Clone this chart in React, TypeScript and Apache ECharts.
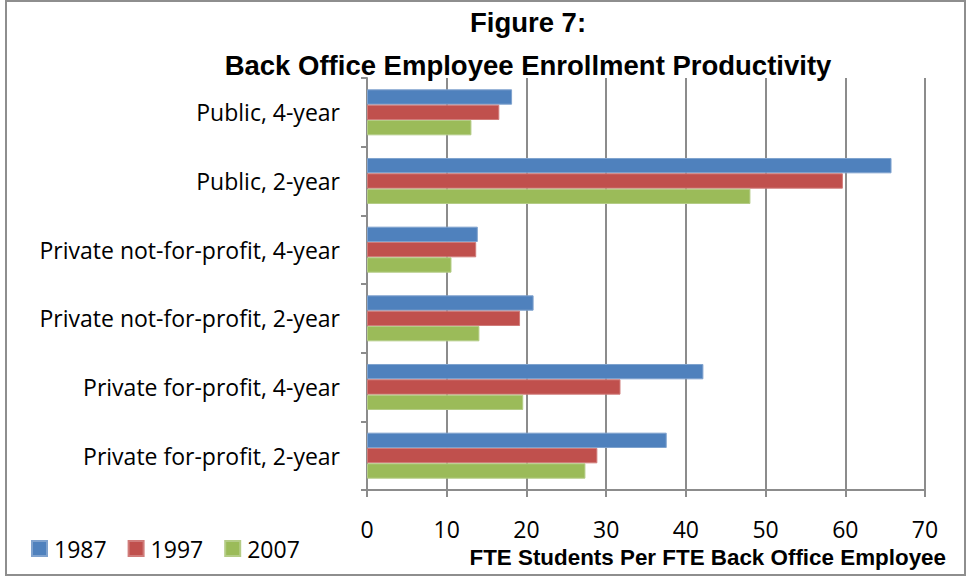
import React, { useEffect, useRef } from "react";
import * as echarts from "echarts";

const categories = [
  "Public, 4-year",
  "Public, 2-year",
  "Private not-for-profit, 4-year",
  "Private not-for-profit, 2-year",
  "Private for-profit, 4-year",
  "Private for-profit, 2-year",
];
const seriesNames = ["1987", "1997", "2007"];
const values1987 = [18.2, 65.8, 13.9, 20.9, 42.2, 37.6];
const values1997 = [16.6, 59.7, 13.7, 19.2, 31.8, 28.9];
const values2007 = [13.1, 48.1, 10.6, 14.1, 19.6, 27.4];
const colors = ["#4F81BD", "#C0504D", "#9BBB59"];
const borderColors = ["#7FA2CE", "#D07C7A", "#B4CC86"];
const xTicks = { min: 0, max: 70, interval: 10 };
const titleLines = ["Figure 7:", "Back Office Employee Enrollment Productivity"];
const xAxisName = "FTE Students Per FTE Back Office Employee";

const FONT = "'Open Sans', 'Liberation Sans', Arial, sans-serif";
const BOLD_FONT = "'Liberation Sans', Arial, sans-serif";

export default function App() {
  const ref = useRef<HTMLDivElement>(null);
  useEffect(() => {
    if (!ref.current) return;
    const chart = echarts.init(ref.current, undefined, { renderer: "svg" });
    const data = [values1987, values1997, values2007];
    chart.setOption({
      animation: false,
      backgroundColor: "#ffffff",
      textStyle: { fontFamily: FONT, color: "#000" },
      grid: { left: 367, right: 42, top: 78, bottom: 89, containLabel: false },
      legend: {
        left: 26,
        top: 532,
        itemWidth: 15,
        itemHeight: 15,
        itemGap: 21,
        icon: "rect",
        data: seriesNames,
        textStyle: { fontSize: 23, fontFamily: FONT, color: "#000", padding: [0, 0, 0, 2] },
      },
      xAxis: {
        type: "value",
        min: xTicks.min,
        max: xTicks.max,
        interval: xTicks.interval,
        axisLine: { show: true, lineStyle: { color: "#8c8c8c", width: 2 } },
        axisTick: { show: true, length: 7, lineStyle: { color: "#8c8c8c", width: 2 } },
        splitLine: { show: true, lineStyle: { color: "#8c8c8c", width: 2 } },
        axisLabel: { margin: 27, fontSize: 23, fontFamily: FONT, color: "#000" },
      },
      yAxis: {
        type: "category",
        inverse: true,
        data: categories,
        axisLine: { show: true, lineStyle: { color: "#8c8c8c", width: 2 } },
        axisTick: { show: true, length: 6, lineStyle: { color: "#8c8c8c", width: 2 } },
        axisLabel: { margin: 27, fontSize: 23, fontFamily: FONT, color: "#000" },
      },
      series: seriesNames.map((name, i) => ({
        name,
        type: "bar",
        data: data[i],
        barGap: "0%",
        barCategoryGap: "33%",
        itemStyle: { color: colors[i], borderColor: borderColors[i], borderWidth: 1 },
      })),
      graphic: [
        {
          type: "rect",
          shape: { x: 6, y: 1, width: 959, height: 574 },
          style: { fill: "none", stroke: "#8e8e8e", lineWidth: 2 },
          silent: true,
        },
        {
          type: "text",
          x: 528,
          y: 22,
          style: {
            text: titleLines[0],
            font: `bold 27.5px ${BOLD_FONT}`,
            fill: "#000",
            textAlign: "center",
            textVerticalAlign: "middle",
          },
        },
        {
          type: "text",
          x: 528,
          y: 65,
          style: {
            text: titleLines[1],
            font: `bold 27.5px ${BOLD_FONT}`,
            fill: "#000",
            textAlign: "center",
            textVerticalAlign: "middle",
          },
        },
        {
          type: "text",
          x: 946,
          y: 557,
          style: {
            text: xAxisName,
            font: `bold 22.4px ${BOLD_FONT}`,
            fill: "#000",
            textAlign: "right",
            textVerticalAlign: "middle",
          },
        },
      ],
    });
    return () => chart.dispose();
  }, []);
  return (
    <div
      ref={ref}
      style={{ position: "absolute", left: 0, top: 0, width: 967, height: 579 }}
    />
  );
}
